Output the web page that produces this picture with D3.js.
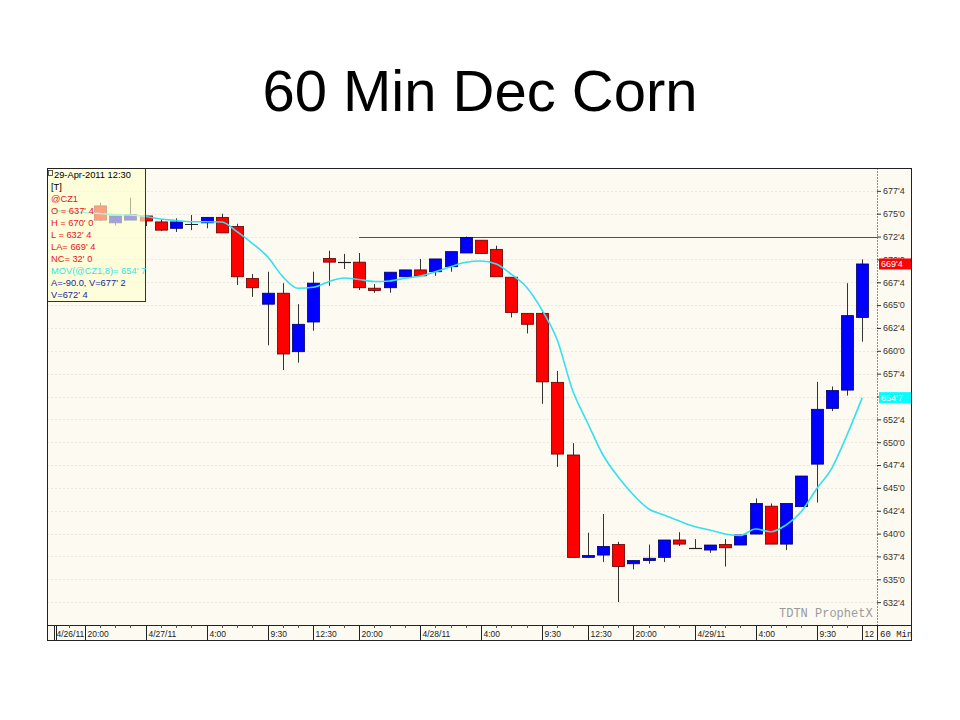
<!DOCTYPE html>
<html><head><meta charset="utf-8">
<script src="https://cdn.jsdelivr.net/npm/d3@7"></script>
<style>body{margin:0;background:#fff;} svg{display:block;}</style>
</head><body><svg id="c" width="960" height="720"></svg>
<script>
// ---------- DATA ----------
const title = "60 Min Dec Corn";
// 60-minute bars, 4/26 18:00 .. 4/29 12:30 (first three hidden under the legend)
const opens  = [null,null,null,675.85,674.0,674.3,674.75,674.1,673.4,673.9,674.0,674.6,673.6,667.9,665.1,666.3,659.9,663.15,670.1,669.75,669.7,666.85,666.9,668.1,668.85,668.65,669.2,670.7,672.1,671.1,668.05,664.1,664.1,656.55,648.6,637.4,637.65,638.8,636.7,637.05,637.4,639.3,638.4,638.2,638.8,638.75,639.95,643.0,638.85,642.95,647.6,653.7,655.7,663.65];
const highs  = [null,null,null,676.2,674.75,676.75,674.75,674.4,674.5,674.85,674.6,675.0,673.9,668.4,668.65,667.4,665.1,668.65,670.95,670.6,670.7,667.3,668.6,668.85,670.05,670.05,670.85,672.5,672.1,671.5,668.05,664.1,664.3,657.8,649.9,640.1,642.15,639.1,637.05,638.8,639.3,640.15,639.4,638.75,639.4,639.85,643.85,643.3,643.3,646.3,656.6,656.1,667.4,670.0];
const lows   = [null,null,null,674.2,673.7,674.3,673.65,673.1,673.0,673.2,673.4,672.9,667.2,665.9,660.6,657.9,658.7,662.2,667.1,668.95,666.65,666.35,666.35,668.1,668.2,668.2,668.65,670.7,670.65,668.1,663.65,661.9,654.2,647.3,637.4,637.4,636.9,632.5,636.1,636.7,636.9,638.65,638.4,637.9,636.4,638.75,639.95,638.85,638.2,642.95,643.4,653.4,655.1,661.0];
const closes = [null,null,null,674.3,674.75,674.9,674.2,673.2,674.1,673.9,674.6,672.9,668.1,666.9,666.3,659.65,662.9,667.4,669.7,669.75,666.9,666.6,668.6,668.85,668.2,670.05,670.85,672.4,670.65,668.1,664.2,662.9,656.6,648.7,637.4,637.6,638.6,636.4,637.05,637.3,639.3,638.85,638.4,638.75,638.45,639.85,643.3,638.85,643.3,646.3,653.6,655.65,663.85,669.5];
// 8-period moving average as drawn
const movAvg = [675.35,675.24,675.13,675.02,674.91,674.86,674.69,674.42,674.26,674.12,674.12,674.09,673.03,671.76,670.3,668.11,666.84,666.95,667.56,667.97,667.8,667.58,667.64,667.93,668.18,668.65,669.2,669.68,669.82,669.5,668.35,666.93,664.46,661.18,655.71,652.07,648.6,646.19,644.22,642.69,642.04,641.38,640.78,640.39,639.96,639.79,640.5,640.21,640.94,642.4,644.88,647.14,650.79,654.875];
const hLineValue = 672.5, hLineStart = 20;
const yTicks = [632.5,635,637.5,640,642.5,645,647.5,650,652.5,655,657.5,660,662.5,665,667.5,670,672.5,675,677.5];
const xTickIdx  = [0,2,6,10,14,17,20,24,28,32,35,38,42,46,50,53];
const xTickText = ["4/26/11","20:00","4/27/11","4:00","9:30","12:30","20:00","4/28/11","4:00","9:30","12:30","20:00","4/29/11","4:00","9:30","12:30"];
const legendLines = [
  ["29-Apr-2011 12:30","#000"],["[T]","#000"],["@CZ1","#e8141e"],["O = 637' 4","#e8141e"],
  ["H = 670' 0","#e8141e"],["L = 632' 4","#e8141e"],["LA= 669' 4","#e8141e"],["NC= 32' 0","#e8141e"],
  ["MOV(@CZ1,8)= 654' 7","#3ce0e0"],["A=-90.0, V=677' 2","#22229a"],["V=672' 4","#22229a"]];
const lastValue = 669.5, lastMov = 654.875;

// ---------- LAYOUT ----------
const svg = d3.select("#c");
const L = 47.5, T = 168.5, R = 877, B = 625, FR = 911.5, FB = 640.5;
const bg = "#fdfbf1";
const fmt = v => { const w = Math.floor(v + 1e-6); const e = Math.round((v - w) * 8); return w + "'" + e; };

svg.append("text").attr("x", 480).attr("y", 111).attr("text-anchor", "middle")
  .attr("font-family", "Liberation Sans, Arial, sans-serif").attr("font-size", 58).attr("fill", "#000").text(title);

svg.append("rect").attr("x", L).attr("y", T).attr("width", FR - L).attr("height", FB - T).attr("fill", bg);

const x = d3.scaleLinear().domain([0, 53]).range([54, 862.25]);
const y = d3.scaleLinear().domain([630, 680]).range([B, 168]);

// grid
svg.append("g").selectAll("line").data(yTicks).join("line")
  .attr("x1", L).attr("x2", R).attr("y1", d => Math.round(y(d)) + 0.5).attr("y2", d => Math.round(y(d)) + 0.5)
  .attr("stroke", "#d9d4c4").attr("stroke-dasharray", "1,3");

const plot = svg.append("g").attr("clip-path", "url(#pc)");
svg.append("clipPath").attr("id", "pc").append("rect").attr("x", L).attr("y", T).attr("width", R - L).attr("height", B - T);

// horizontal line
plot.append("line").attr("x1", x(hLineStart)).attr("x2", R).attr("y1", Math.round(y(hLineValue)) + 0.5).attr("y2", Math.round(y(hLineValue)) + 0.5)
  .attr("stroke", "#3b3bff").attr("stroke-width", 1.1);

// candles
const bars = d3.range(opens.length).filter(i => opens[i] != null).map(i => ({i, o: opens[i], h: highs[i], l: lows[i], c: closes[i]}));
const bw = 12;
const cg = plot.append("g");
cg.selectAll("line.w").data(bars).join("line").attr("class", "w")
  .attr("x1", d => Math.round(x(d.i)) + 0.5).attr("x2", d => Math.round(x(d.i)) + 0.5)
  .attr("y1", d => y(d.h)).attr("y2", d => y(d.l)).attr("stroke", "#333").attr("stroke-width", 1);
cg.selectAll("rect.b").data(bars.filter(d => d.o !== d.c)).join("rect").attr("class", "b")
  .attr("x", d => Math.round(x(d.i)) - bw / 2 + 0.5).attr("width", bw)
  .attr("y", d => y(Math.max(d.o, d.c)))
  .attr("height", d => Math.max(1.5, Math.abs(y(d.o) - y(d.c))))
  .attr("fill", d => d.c > d.o ? "#0000ff" : "#ff0000")
  .attr("stroke", d => d.c > d.o ? "#000060" : "#600000").attr("stroke-width", 0.8);
cg.selectAll("line.d").data(bars.filter(d => d.o === d.c)).join("line").attr("class", "d")
  .attr("x1", d => Math.round(x(d.i)) - bw / 2).attr("x2", d => Math.round(x(d.i)) + bw / 2 + 1)
  .attr("y1", d => Math.round(y(d.c)) + 0.5).attr("y2", d => Math.round(y(d.c)) + 0.5).attr("stroke", "#222").attr("stroke-width", 1.2);

// moving average
plot.append("path").datum(movAvg.map((v, i) => [i, v]))
  .attr("d", d3.line().x(d => x(d[0])).y(d => y(d[1])).curve(d3.curveMonotoneX))
  .attr("fill", "none").attr("stroke", "#33e0f0").attr("stroke-width", 1.6);

// watermark
svg.append("text").attr("x", 779).attr("y", 617).attr("font-family", "Liberation Mono, Courier New, monospace")
  .attr("font-size", 12).attr("fill", "#9a9a9a").text("TDTN ProphetX");

// legend box (semi-transparent)
svg.append("rect").attr("x", L).attr("y", T).attr("width", 98).attr("height", 133)
  .attr("fill", "#ffffcc").attr("fill-opacity", 0.63).attr("stroke", "#333").attr("stroke-width", 1);
svg.append("rect").attr("x", 48.5).attr("y", 170.5).attr("width", 4).attr("height", 5).attr("fill", "none").attr("stroke", "#333").attr("stroke-width", 0.8);
svg.append("g").selectAll("text").data(legendLines).join("text")
  .attr("x", (d, i) => i === 0 ? 54 : 51).attr("y", (d, i) => 177.5 + i * 12)
  .attr("font-family", "Liberation Sans, Arial, sans-serif").attr("font-size", 9.3)
  .attr("fill", d => d[1]).text(d => d[0]);

// right axis (the label hidden behind the moving-average tag is not drawn)
const ay = svg.append("g").attr("transform", `translate(${R},0)`)
  .call(d3.axisRight(y).tickValues(yTicks).tickSize(4).tickPadding(2)
    .tickFormat(v => Math.abs(y(v) - y(lastMov)) < 5 ? "" : fmt(v)));
ay.select(".domain").remove();
ay.selectAll("line").attr("stroke", "#333");
ay.selectAll("text").attr("font-family", "Liberation Sans, Arial, sans-serif").attr("font-size", 9).attr("fill", "#333");
svg.append("line").attr("x1", R + 0.5).attr("x2", R + 0.5).attr("y1", T).attr("y2", B).attr("stroke", "#222").attr("stroke-dasharray", "1,2");

// value tags
const tags = [[lastValue, "#ff0000"], [lastMov, "#00ffff"]];
const tg = svg.append("g").selectAll("g").data(tags).join("g").attr("transform", d => `translate(${R + 2},${y(d[0])})`);
tg.append("rect").attr("x", 0).attr("y", -5.5).attr("width", 32).attr("height", 11).attr("fill", d => d[1]);
tg.append("text").attr("x", 2).attr("y", 3.5).attr("font-family", "Liberation Sans, Arial, sans-serif").attr("font-size", 9)
  .attr("fill", "#fff").text(d => fmt(d[0]));

// bottom axis
svg.append("line").attr("x1", L).attr("x2", FR).attr("y1", B + 0.5).attr("y2", B + 0.5).attr("stroke", "#222");
svg.append("g").selectAll("line").data(d3.range(54)).join("line")
  .attr("x1", d => Math.round(x(d)) + 0.5).attr("x2", d => Math.round(x(d)) + 0.5).attr("y1", B).attr("y2", B + 3).attr("stroke", "#555");
svg.append("clipPath").attr("id", "xc").append("rect").attr("x", L).attr("y", B).attr("width", R - L).attr("height", FB - B);
const xg = svg.append("g").attr("clip-path", "url(#xc)");
xg.selectAll("line").data(xTickIdx).join("line")
  .attr("x1", d => Math.round(x(d)) + 0.5).attr("x2", d => Math.round(x(d)) + 0.5).attr("y1", B).attr("y2", FB).attr("stroke", "#222");
xg.selectAll("text").data(xTickIdx).join("text")
  .attr("x", d => Math.round(x(d)) + 2.5).attr("y", 637)
  .attr("font-family", "Liberation Sans, Arial, sans-serif").attr("font-size", 8.5).attr("fill", "#222")
  .text((d, i) => xTickText[i])
  .each(function () {
    // truncate a label that runs past the axis end, as the chart does
    const el = d3.select(this); let s = el.text();
    while (s.length > 1 && this.getBBox().x + this.getComputedTextLength() > R - 1) { s = s.slice(0, -1); el.text(s); }
  });
svg.append("line").attr("x1", 56.5).attr("x2", 56.5).attr("y1", B).attr("y2", FB).attr("stroke", "#222");
svg.append("line").attr("x1", R + 0.5).attr("x2", R + 0.5).attr("y1", B).attr("y2", FB).attr("stroke", "#222");
svg.append("text").attr("x", 880).attr("y", 637).attr("font-family", "Liberation Mono, Courier New, monospace")
  .attr("font-size", 9).attr("fill", "#222").text("60 Min");

// frame
svg.append("rect").attr("x", L).attr("y", T).attr("width", FR - L).attr("height", FB - T)
  .attr("fill", "none").attr("stroke", "#222").attr("stroke-width", 1);
</script></body></html>
